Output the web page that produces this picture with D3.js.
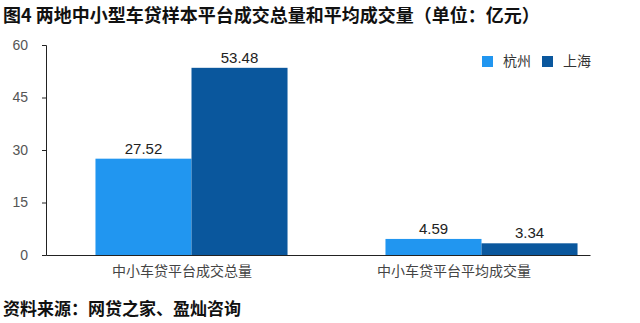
<!DOCTYPE html>
<html><head><meta charset="utf-8">
<script src="https://cdn.jsdelivr.net/npm/d3@7"></script>
<style>
body{margin:0;background:#fff;}
text{font-family:"Liberation Sans","Noto Sans CJK SC",sans-serif;}
</style></head>
<body>
<svg id="c" width="640" height="323"></svg>
<script>
const categories = ["中小车贷平台成交总量", "中小车贷平台平均成交量"];
const seriesNames = ["杭州", "上海"];
const hangzhou = [27.52, 4.59];
const shanghai = [53.48, 3.34];
const yTicks = [0, 15, 30, 45, 60];
const colors = ["#2196F0", "#0A579D"];
const title = "图4 两地中小型车贷样本平台成交总量和平均成交量（单位：亿元）";
const source = "资料来源：网贷之家、盈灿咨询";

const series = [hangzhou, shanghai];
const svg = d3.select("#c");
const cjk = '"Noto Sans CJK SC", sans-serif';

const y = d3.scaleLinear().domain([0, 60]).range([255, 45]);
const xAxisScale = d3.scaleBand().domain(categories).range([46, 590]);
const xBar = d3.scaleBand().domain(categories).range([46.5, 626.5]).paddingInner(0).paddingOuter(0);
const xInner = d3.scaleBand().domain(seriesNames).range([0, xBar.bandwidth()]).paddingInner(0).paddingOuter(0.51);

// title
svg.append("text").attr("x", 3).attr("y", 22).attr("font-size", 18).attr("font-weight", "bold")
  .style("font-family", cjk).attr("fill", "#111").text(title);

// y axis
const yAxis = d3.axisLeft(y).tickValues(yTicks).tickSize(4).tickPadding(14);
const gy = svg.append("g").attr("transform", "translate(46,0)").call(yAxis);
gy.select(".domain").attr("stroke", "#222");
gy.selectAll(".tick line").attr("stroke", "#222");
gy.selectAll(".tick text").attr("font-size", 14).attr("fill", "#555")
  .style("font-family", '"Liberation Sans", sans-serif');

// bars
const groups = svg.append("g").selectAll("g").data(categories).join("g")
  .attr("transform", d => `translate(${xBar(d)},0)`);
seriesNames.forEach((s, si) => {
  groups.append("rect")
    .attr("x", xInner(s))
    .attr("width", xInner.bandwidth())
    .attr("y", (d, i) => y(series[si][i]))
    .attr("height", (d, i) => y(0) - y(series[si][i]))
    .attr("fill", colors[si]);
  groups.append("text")
    .attr("x", xInner(s) + xInner.bandwidth() / 2)
    .attr("y", (d, i) => y(series[si][i]) - 5)
    .attr("text-anchor", "middle").attr("font-size", 15).attr("fill", "#222")
    .style("font-family", '"Liberation Sans", sans-serif')
    .text((d, i) => series[si][i].toFixed(2));
});

// x axis
const xAxis = d3.axisBottom(xAxisScale).tickSize(0).tickPadding(11);
const gx = svg.append("g").attr("transform", "translate(0,255)").call(xAxis);
gx.select(".domain").attr("stroke", "#222");
gx.selectAll(".tick text").attr("font-size", 14).attr("fill", "#444").style("font-family", cjk);

// legend
const lx = [482, 542];
seriesNames.forEach((s, i) => {
  svg.append("rect").attr("x", lx[i]).attr("y", 56).attr("width", 11).attr("height", 11).attr("fill", colors[i]);
  svg.append("text").attr("x", lx[i] + 21).attr("y", 66).attr("font-size", 14).attr("fill", "#333")
    .style("font-family", cjk).text(s);
});

// source
svg.append("text").attr("x", 3).attr("y", 315).attr("font-size", 17).attr("font-weight", "bold")
  .style("font-family", cjk).attr("fill", "#111").text(source);
</script>
</body></html>
